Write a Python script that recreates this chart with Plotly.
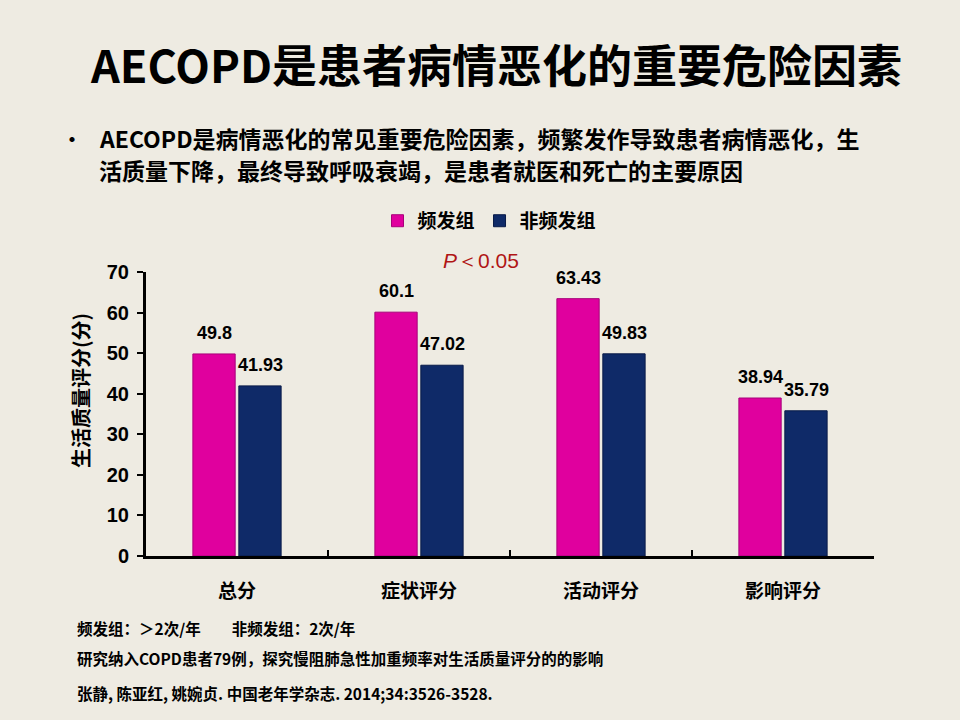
import plotly.graph_objects as go

categories = ["总分", "症状评分", "活动评分", "影响评分"]
freq_vals = [49.8, 60.1, 63.43, 38.94]
nonfreq_vals = [41.93, 47.02, 49.83, 35.79]
series_names = ["频发组", "非频发组"]
y_ticks = [0, 10, 20, 30, 40, 50, 60, 70]

BG = "#EEEBE2"
PINK = "#E0009E"
BLUE = "#0F2A68"
CJK = "Noto Sans CJK SC"
NUM = "Liberation Sans"

fig = go.Figure()
fig.add_trace(go.Bar(
    x=categories, y=freq_vals, name=series_names[0],
    marker=dict(color=PINK, line=dict(color="#A8007A", width=1)),
))
fig.add_trace(go.Bar(
    x=categories, y=nonfreq_vals, name=series_names[1],
    marker=dict(color=BLUE, line=dict(color="#081a48", width=1)),
))

fig.update_layout(
    width=960, height=720,
    paper_bgcolor=BG, plot_bgcolor=BG,
    margin=dict(l=146, r=86, t=272, b=164),
    barmode="group", bargap=0.495, bargroupgap=0.08,
    showlegend=True,
    legend=dict(
        orientation="h", x=0.318, y=1.18, xanchor="left", yanchor="middle",
        bgcolor="rgba(0,0,0,0)", itemwidth=30, traceorder="normal",
        font=dict(family=CJK, size=19, color="black", weight="bold"),
    ),
    xaxis=dict(
        showline=True, linecolor="black", linewidth=3,
        ticks="inside", tickson="boundaries", ticklen=6, tickwidth=2, tickcolor="black",
        tickfont=dict(family=CJK, size=19, color="black", weight="bold"),
        ticklabelstandoff=16,
        showgrid=False,
    ),
    yaxis=dict(
        range=[0, 70], tickvals=y_ticks,
        showline=True, linecolor="black", linewidth=3,
        ticks="outside", ticklen=6, tickwidth=2, tickcolor="black",
        tickfont=dict(family=NUM, size=20, color="black", weight="bold"),
        ticklabelstandoff=4,
        showgrid=False, zeroline=False,
    ),
    font=dict(family=CJK, color="black"),
)

annotations = [
    dict(text="AECOPD是患者病情恶化的重要危险因素", x=496, y=63, font=dict(size=45, weight="bold")),
    dict(text="•", x=72, y=138, font=dict(size=20, weight="bold")),
    dict(text="AECOPD是病情恶化的常见重要危险因素，频繁发作导致患者病情恶化，生", x=97, y=138,
         xanchor="left", font=dict(size=23, weight="bold")),
    dict(text="活质量下降，最终导致呼吸衰竭，是患者就医和死亡的主要原因", x=97, y=170,
         xanchor="left", font=dict(size=23, weight="bold")),
    dict(text="<i>P</i>＜0.05", x=481, y=260, font=dict(family=NUM, size=21, color="#B01515")),
    dict(text="生活质量评分(分)", x=80, y=391, textangle=-90, font=dict(size=20, weight="bold")),
    dict(text="频发组：＞2次/年　　非频发组：2次/年", x=75, y=628, xanchor="left", font=dict(size=15.5, weight="bold")),
    dict(text="研究纳入COPD患者79例，探究慢阻肺急性加重频率对生活质量评分的的影响", x=75, y=658,
         xanchor="left", font=dict(size=15.5, weight="bold")),
    dict(text="张静, 陈亚红, 姚婉贞. 中国老年学杂志. 2014;34:3526-3528.", x=75, y=693,
         xanchor="left", font=dict(size=15.5, weight="bold")),
]
pw, ph = 960 - 146 - 86, 720 - 272 - 164
for a in annotations:
    a.setdefault("xanchor", "center")
    a["x"] = (a["x"] - 146) / pw
    a["y"] = ((720 - a["y"]) - 164) / ph
    a.update(xref="paper", yref="paper", yanchor="middle", showarrow=False)
    f = a["font"]
    f.setdefault("family", CJK)
    f.setdefault("color", "black")

# value labels above bars, placed on the data axes
for vals, shift in ((freq_vals, -23), (nonfreq_vals, 23)):
    for cat, v in zip(categories, vals):
        annotations.append(dict(
            x=cat, y=v, xref="x", yref="y", text=f"{v:g}", showarrow=False,
            xshift=shift, yshift=9, yanchor="bottom", xanchor="center",
            font=dict(family=NUM, size=18, color="black", weight="bold"),
        ))

fig.update_layout(annotations=annotations)
fig.write_html("out.html")
